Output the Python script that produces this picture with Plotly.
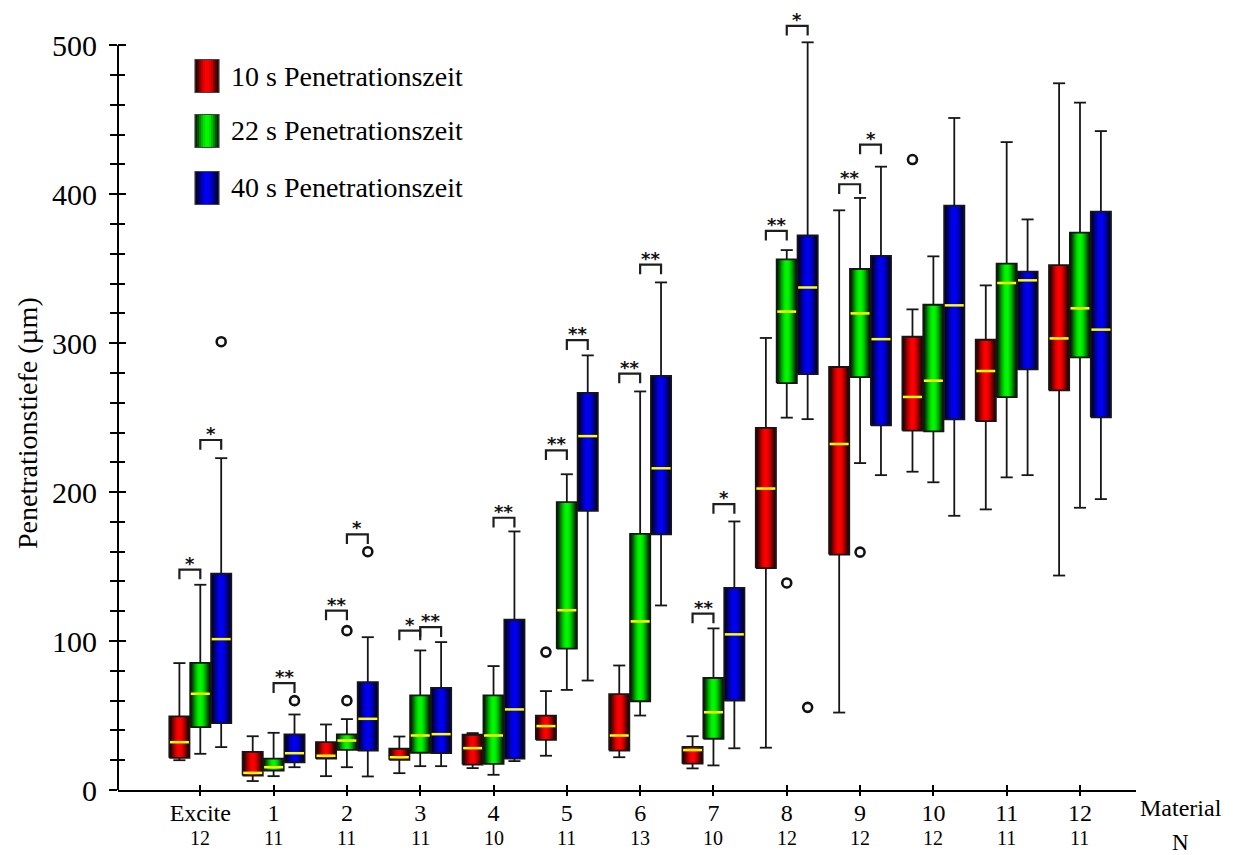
import numpy as np
import plotly.graph_objects as go

# ---------------- data ----------------
categories = ["Excite", "1", "2", "3", "4", "5", "6", "7", "8", "9", "10", "11", "12"]
n_values = [12, 11, 11, 11, 10, 11, 13, 10, 12, 12, 12, 11, 11]
series_names = ["10 s Penetrationszeit", "22 s Penetrationszeit", "40 s Penetrationszeit"]

red_lower = [20, 6, 9.3, 11.3, 14.7, 23, 22, 14.5, 28.4, 52, 213.7, 188.4, 144]
red_q1 = [21.6, 9.7, 21, 20.3, 17.1, 33.7, 26.5, 17.7, 149, 158.1, 241.3, 247.7, 268.3]
red_median = [32.1, 11.5, 23, 22, 28.1, 42.9, 36.6, 26.8, 202.4, 232.3, 263.9, 281.3, 303.2]
red_q3 = [49.4, 25.6, 32.1, 27.7, 37.1, 50, 64.4, 28.9, 243.2, 284, 304.3, 302.3, 352.4]
red_upper = [85.2, 36.1, 44, 35.9, 38.2, 66.4, 83.6, 36.1, 303.5, 389.2, 322.7, 338.8, 474.5]

green_lower = [24.3, 9.3, 15.3, 16, 10.2, 67.2, 50, 16.5, 250, 219.5, 206.6, 209.9, 189.5]
green_q1 = [42.2, 13.1, 27, 25, 17.6, 94.9, 59.6, 34.4, 273.2, 277.2, 240.8, 263.8, 290.5]
green_median = [64.6, 15.3, 33.2, 36.6, 36.6, 120.7, 113.2, 52.2, 321.2, 320, 274.8, 340.4, 323.4]
green_q3 = [85.4, 21, 37.3, 63.5, 63.5, 193.3, 171.9, 75.2, 356.3, 349.8, 325.8, 353.4, 374.2]
green_upper = [137.8, 38.4, 47.6, 93.7, 83.2, 212, 267.6, 108.5, 362.5, 397.5, 358.3, 435, 461.5]

blue_lower = [28.8, 15.3, 9.1, 16, 19.4, 73.5, 123.9, 28, 249, 211.4, 184.1, 211.4, 195.3]
blue_q1 = [44.9, 18.5, 26.5, 24.7, 21, 187.4, 171.7, 60.1, 279.2, 244.8, 248.8, 282.4, 250.2]
blue_median = [101.3, 24.7, 47.8, 37.5, 54.1, 237.6, 216, 104.5, 337.4, 302.7, 325.4, 342.2, 309.1]
blue_q3 = [145.2, 37.3, 72.4, 68.6, 114.3, 266.6, 278.1, 135.7, 372.3, 358.6, 392.3, 348, 388.3]
blue_upper = [222.8, 50.7, 102.6, 99.3, 173.6, 291.8, 340.8, 180.3, 502, 418.5, 451.2, 383.1, 442.4]

# outliers: material, series index (0=10 s, 1=22 s, 2=40 s), value
outlier_material = ["Excite", "1", "2", "2", "2", "5", "8", "8", "9", "10"]
outlier_series = [2, 2, 1, 1, 2, 0, 1, 2, 1, 0]
outlier_value = [301, 60, 60, 107, 160, 92.6, 139, 55.5, 159.7, 423.3]

# significance brackets: material, pair (0: 10s-22s, 1: 22s-40s), label, bracket level
sig_material = ["Excite", "Excite", "1", "2", "2", "3", "3", "4", "5", "5",
                "6", "6", "7", "7", "8", "8", "9", "9"]
sig_pair = [0, 1, 1, 0, 1, 0, 1, 1, 0, 1, 0, 1, 0, 1, 0, 1, 0, 1]
sig_label = ["*", "*", "**", "**", "*", "*", "**", "**", "**", "**",
             "**", "**", "**", "*", "**", "*", "**", "*"]
sig_level = [148, 235, 71.7, 120.5, 171.6, 107, 109.3, 182.8, 228, 302,
             279.6, 352.7, 118.4, 192, 375.4, 513, 406.7, 433.3]

# ---------------- styling / geometry ----------------
FONT = "Liberation Serif, Times New Roman, serif"
pos = list(range(len(categories)))
offsets = [-0.285, 0.0, 0.285]
BOX_W = 0.275
CAP = 0.6 * BOX_W
X_RANGE = [-1.1226, 12.764]
Y_RANGE = [0, 519]

series = [
    dict(lower=red_lower, q1=red_q1, median=red_median, q3=red_q3, upper=red_upper,
         bright=(255, 0, 0), dark=(25, 0, 0)),
    dict(lower=green_lower, q1=green_q1, median=green_median, q3=green_q3, upper=green_upper,
         bright=(0, 250, 0), dark=(0, 25, 0)),
    dict(lower=blue_lower, q1=blue_q1, median=blue_median, q3=blue_q3, upper=blue_upper,
         bright=(0, 0, 245), dark=(0, 0, 25)),
]


def mix(c0, c1, f):
    return "rgb(%d,%d,%d)" % tuple(int(round(a + (b - a) * f)) for a, b in zip(c0, c1))


def shade(t):
    return np.sin(np.pi * t) ** 1.4


def colorscale(s):
    ts = np.linspace(0, 1, 21)
    return [[float(t), mix(s["dark"], s["bright"], shade(t))] for t in ts]


fig = go.Figure()

# 1) gradient-filled box bodies
for si, s in enumerate(series):
    xs = [p + offsets[si] for p in pos]
    cs = colorscale(s)
    for xc, lo, hi in zip(xs, s["q1"], s["q3"]):
        x0, x1 = xc - BOX_W / 2, xc + BOX_W / 2
        fig.add_trace(go.Scatter(
            x=[x0, x1, x1, x0, x0], y=[lo, lo, hi, hi, lo], mode="lines",
            fill="toself", line=dict(width=0),
            fillgradient=dict(type="horizontal", colorscale=cs, start=x0, stop=x1),
            hoverinfo="skip", showlegend=False))

# 2) outlines, whiskers, caps and medians
for si, s in enumerate(series):
    xs = [p + offsets[si] for p in pos]
    lx, ly, mx, my = [], [], [], []
    for xc, lo, q1, med, q3, hi in zip(xs, s["lower"], s["q1"], s["median"], s["q3"], s["upper"]):
        x0, x1 = xc - BOX_W / 2, xc + BOX_W / 2
        lx += [x0, x1, x1, x0, x0, None]
        ly += [q1, q1, q3, q3, q1, None]
        lx += [xc, xc, None, xc - CAP / 2, xc + CAP / 2, None]
        ly += [q3, hi, None, hi, hi, None]
        lx += [xc, xc, None, xc - CAP / 2, xc + CAP / 2, None]
        ly += [q1, lo, None, lo, lo, None]
        mx += [x0 + 0.008, x1 - 0.008, None]
        my += [med, med, None]
    fig.add_trace(go.Scatter(x=lx, y=ly, mode="lines", hoverinfo="skip", showlegend=False,
                             line=dict(color="#161616", width=1.8)))
    fig.add_trace(go.Scatter(x=mx, y=my, mode="lines", hoverinfo="skip", showlegend=False,
                             line=dict(color="#ffff00", width=2.5)))

# outliers
ox = [categories.index(m) + offsets[si] for m, si in zip(outlier_material, outlier_series)]
fig.add_trace(go.Scatter(
    x=ox, y=outlier_value, mode="markers", showlegend=False, hoverinfo="skip",
    marker=dict(symbol="circle-open", size=9, color="#111", line=dict(width=2.6, color="#111"))))

# significance brackets
LEG = 6.5
bx, by = [], []
for m, p, lv in zip(sig_material, sig_pair, sig_level):
    g = categories.index(m)
    x0 = g + offsets[p]
    x1 = g + offsets[p + 1]
    bx += [x0, x0, x1, x1, None]
    by += [lv - LEG, lv, lv, lv - LEG, None]
fig.add_trace(go.Scatter(x=bx, y=by, mode="lines", showlegend=False, hoverinfo="skip",
                         line=dict(color="#1e1e1e", width=2.2)))

annotations = []
for m, p, lv, lab in zip(sig_material, sig_pair, sig_level, sig_label):
    g = categories.index(m)
    xm = g + (offsets[p] + offsets[p + 1]) / 2
    annotations.append(dict(x=xm, y=lv, xref="x", yref="y", text="<b>%s</b>" % lab,
                            showarrow=False, xanchor="center", yanchor="bottom", yshift=-6,
                            font=dict(family="DejaVu Sans", size=18, color="#111")))

# plot-area geometry (pixels) for paper-positioned items
L, T, W, H = 118, 17, 1018, 773


def px(xp):
    return (xp - L) / W


def py(yp):
    return (T + H - yp) / H


def xdata_to_paper(x):
    return (x - X_RANGE[0]) / (X_RANGE[1] - X_RANGE[0])


# N row and axis-end labels
for g, n in zip(pos, n_values):
    annotations.append(dict(x=xdata_to_paper(g), y=py(838), xref="paper", yref="paper",
                            text=str(n), showarrow=False, xanchor="center", yanchor="middle",
                            font=dict(family=FONT, size=20, color="black")))
annotations.append(dict(x=px(1181), y=py(808), xref="paper", yref="paper", text="Material",
                        showarrow=False, xanchor="center", yanchor="middle",
                        font=dict(family=FONT, size=24, color="black")))
annotations.append(dict(x=px(1180), y=py(842), xref="paper", yref="paper", text="N",
                        showarrow=False, xanchor="center", yanchor="middle",
                        font=dict(family=FONT, size=23, color="black")))

annotations.append(dict(x=px(27), y=py(423), xref="paper", yref="paper",
                        text="Penetrationstiefe (µm)", textangle=-90, showarrow=False,
                        xanchor="center", yanchor="middle",
                        font=dict(family=FONT, size=28, color="black")))

# custom legend
shapes = []
legend_rows = [76, 131, 188]
NS = 12
for si, (s, yc) in enumerate(zip(series, legend_rows)):
    sx0, sx1 = 195, 219
    for k in range(NS):
        col = mix(s["dark"], s["bright"], shade((k + 0.5) / NS))
        shapes.append(dict(type="rect", xref="paper", yref="paper",
                           x0=px(sx0 + (sx1 - sx0) * k / NS),
                           x1=px(sx0 + (sx1 - sx0) * (k + 1) / NS),
                           y0=py(yc - 16.5), y1=py(yc + 16.5),
                           fillcolor=col, line=dict(width=0), layer="above"))
    shapes.append(dict(type="rect", xref="paper", yref="paper",
                       x0=px(sx0), x1=px(sx1), y0=py(yc - 16.5), y1=py(yc + 16.5),
                       fillcolor="rgba(0,0,0,0)", line=dict(width=1.2, color="#444"),
                       layer="above"))
    annotations.append(dict(x=px(229), y=py(yc), xref="paper", yref="paper",
                            text=series_names[si], showarrow=False, xanchor="left",
                            yanchor="middle",
                            font=dict(family=FONT, size=28, color="black")))

# y-axis line up to 500 only
shapes.append(dict(type="line", xref="paper", yref="paper", x0=0, x1=0,
                   y0=0, y1=500 / Y_RANGE[1], line=dict(color="black", width=2)))

# dummy trace for overlay tick axes
fig.add_trace(go.Scatter(x=[None], y=[None], xaxis="x2", yaxis="y2",
                         showlegend=False, hoverinfo="skip"))

major = [0, 100, 200, 300, 400, 500]
minor = [v for v in range(20, 500, 20) if v % 100 != 0]

fig.update_layout(
    width=1233, height=855,
    margin=dict(l=L, r=1233 - L - W, t=T, b=855 - T - H),
    paper_bgcolor="white", plot_bgcolor="white",
    showlegend=False,
    font=dict(family=FONT, color="black"),
    xaxis=dict(range=X_RANGE, tickvals=pos, ticktext=categories,
               ticks="inside", ticklen=5, tickwidth=2, tickcolor="black",
               showline=True, linecolor="black", linewidth=2,
               showgrid=False, zeroline=False,
               tickfont=dict(family=FONT, size=24, color="black")),
    yaxis=dict(range=Y_RANGE, tickvals=major, ticks="outside", ticklen=8, tickwidth=2,
               tickcolor="black", showline=False, showgrid=False, zeroline=False,
               ticklabelstandoff=6,
               minor=dict(tickmode="array", tickvals=minor, ticks="outside", ticklen=7,
                          tickwidth=1.5, tickcolor="black", showgrid=False),
               tickfont=dict(family=FONT, size=30, color="black")),
    xaxis2=dict(overlaying="x", anchor="y2", side="bottom", range=X_RANGE, tickvals=pos,
                ticks="outside", ticklen=5, tickwidth=2, tickcolor="black",
                showticklabels=False, showline=False, showgrid=False, zeroline=False),
    yaxis2=dict(overlaying="y", anchor="x2", side="left", range=Y_RANGE, tickvals=major,
                ticks="inside", ticklen=8, tickwidth=2, tickcolor="black",
                minor=dict(tickmode="array", tickvals=minor, ticks="inside", ticklen=7,
                           tickwidth=1.5, tickcolor="black", showgrid=False),
                showticklabels=False, showline=False, showgrid=False, zeroline=False),
    annotations=annotations,
    shapes=shapes,
)

fig.write_html("out.html")
